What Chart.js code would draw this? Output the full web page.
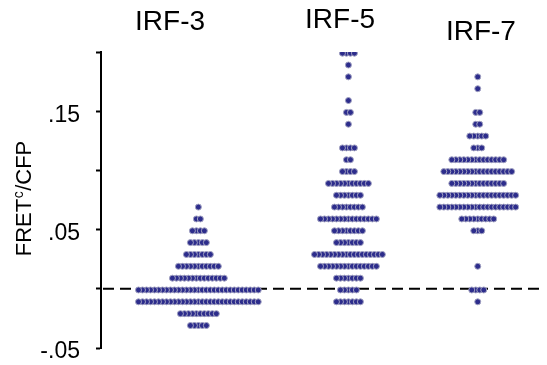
<!DOCTYPE html>
<html>
<head>
<meta charset="utf-8">
<script src="https://cdn.jsdelivr.net/npm/chart.js@4"></script>
<style>
  html, body { margin: 0; padding: 0; background: #fff; }
  #wrap { width: 547px; height: 365px; position: relative; }
</style>
</head>
<body>
<div id="wrap"><canvas id="swarm"></canvas></div>
<script>
// Beeswarm FRETc/CFP por grupo IRF
const groupNames = ['IRF-3', 'IRF-5', 'IRF-7'];

// valor de cada linha do enxame e quantos pontos tem nela
const irf3Levels = [0.069, 0.059, 0.049, 0.039, 0.029, 0.019, 0.009, -0.001, -0.011, -0.021, -0.031];
const irf3Counts = [1, 2, 4, 5, 7, 11, 14, 31, 31, 10, 5];

const irf5Levels = [0.199, 0.189, 0.179, 0.159, 0.149, 0.139, 0.119, 0.109, 0.099, 0.089, 0.079,
                    0.069, 0.059, 0.049, 0.039, 0.029, 0.019, 0.009, -0.001, -0.011];
const irf5Counts = [4, 1, 1, 1, 2, 1, 4, 2, 4, 11, 7, 8, 15, 8, 7, 18, 15, 7, 5, 7];

const irf7Levels = [0.179, 0.169, 0.149, 0.139, 0.129, 0.119, 0.109, 0.099, 0.089, 0.079,
                    0.069, 0.059, 0.049, 0.019, -0.001, -0.011];
const irf7Counts = [1, 1, 2, 2, 5, 3, 14, 18, 14, 20, 20, 9, 3, 1, 4, 1];

const yTickLabels = { '-5': '-.05', '5': '.05', '15': '.15' };

// posição de cada grupo no eixo x (escala 0..110)
const groupCenters = [24.4, 62.0, 94.4];
const dotStep = 1;

function swarm(center, levels, counts) {
    var pts = [];
    levels.forEach(function (v, i) {
        var n = counts[i];
        var offs = [];
        for (var j = 0; j < n; j++) offs.push(j - (n - 1) / 2);
        // do centro para fora, como no original
        offs.sort(function (a, b) { return Math.abs(a) - Math.abs(b); });
        offs.forEach(function (o) { pts.push({ x: center + o * dotStep, y: v }); });
    });
    return pts;
}

var dotStyle = {
    type: 'scatter',
    backgroundColor: '#2d2d8c',
    borderColor: '#a2a2c2',
    borderWidth: 1,
    pointRadius: 3,
    pointHoverRadius: 3,
    order: 1
};

const groupLabels = {
    id: 'groupLabels',
    afterDraw: function (chart) {
        var ctx = chart.ctx;
        var x = chart.scales.x;
        var lx = [17.3, 59.9, 95.2];
        var ly = [22, 20, 32];
        ctx.save();
        ctx.fillStyle = '#000';
        ctx.font = '28px "Liberation Sans", Arial, sans-serif';
        ctx.textAlign = 'center';
        ctx.textBaseline = 'middle';
        groupNames.forEach(function (name, i) {
            ctx.fillText(name, x.getPixelForValue(lx[i]), ly[i]);
        });

        // titulo do eixo y com o "c" sobrescrito
        ctx.translate(23.3, 198.5);
        ctx.rotate(-Math.PI / 2);
        ctx.textAlign = 'left';
        ctx.textBaseline = 'alphabetic';
        var big = '22px "Liberation Sans", Arial, sans-serif';
        var small = '14px "Liberation Sans", Arial, sans-serif';
        ctx.font = big;
        var w1 = ctx.measureText('FRET').width;
        var w3 = ctx.measureText('/CFP').width;
        ctx.font = small;
        var w2 = ctx.measureText('c').width + 1;
        var sx = -(w1 + w2 + w3) / 2;
        var base = 7.9;
        ctx.font = big;
        ctx.fillText('FRET', sx, base);
        ctx.font = small;
        ctx.fillText('c', sx + w1 + 0.5, base - 8);
        ctx.font = big;
        ctx.fillText('/CFP', sx + w1 + w2, base);
        ctx.restore();
    }
};

new Chart(document.getElementById('swarm'), {
    data: {
        datasets: [
            Object.assign({ label: groupNames[0], data: swarm(groupCenters[0], irf3Levels, irf3Counts) }, dotStyle),
            Object.assign({ label: groupNames[1], data: swarm(groupCenters[1], irf5Levels, irf5Counts) }, dotStyle),
            Object.assign({ label: groupNames[2], data: swarm(groupCenters[2], irf7Levels, irf7Counts) }, dotStyle),
            {
                type: 'line',
                label: 'zero',
                data: [{ x: 0.5, y: 0 }, { x: 110, y: 0 }],
                borderColor: '#000',
                borderWidth: 2,
                borderDash: [11, 6],
                pointRadius: 0,
                fill: false,
                order: 2
            }
        ]
    },
    options: {
        responsive: true,
        maintainAspectRatio: false,
        animation: false,
        layout: { padding: { left: 0, right: 7, top: 52, bottom: 17 } },
        plugins: {
            legend: { display: false },
            tooltip: { enabled: false },
            title: { display: false }
        },
        scales: {
            x: {
                type: 'linear',
                min: 0,
                max: 110,
                display: false
            },
            y: {
                min: -0.05,
                max: 0.2,
                afterFit: function (s) {
                    s.width = 101;
                    s.paddingTop = 0;
                    s.paddingBottom = 0;
                },
                ticks: {
                    stepSize: 0.05,
                    color: '#000',
                    padding: 16,
                    labelOffset: 4,
                    font: { family: '"Liberation Sans", Arial, sans-serif', size: 23 },
                    callback: function (v) {
                        var k = String(Math.round(v * 100));
                        return yTickLabels[k] || '';
                    }
                },
                grid: {
                    drawOnChartArea: false,
                    drawTicks: true,
                    tickLength: 5,
                    tickWidth: 2,
                    tickColor: '#000'
                },
                border: { display: true, color: '#000', width: 2 }
            }
        }
    },
    plugins: [groupLabels]
});
</script>
</body>
</html>
